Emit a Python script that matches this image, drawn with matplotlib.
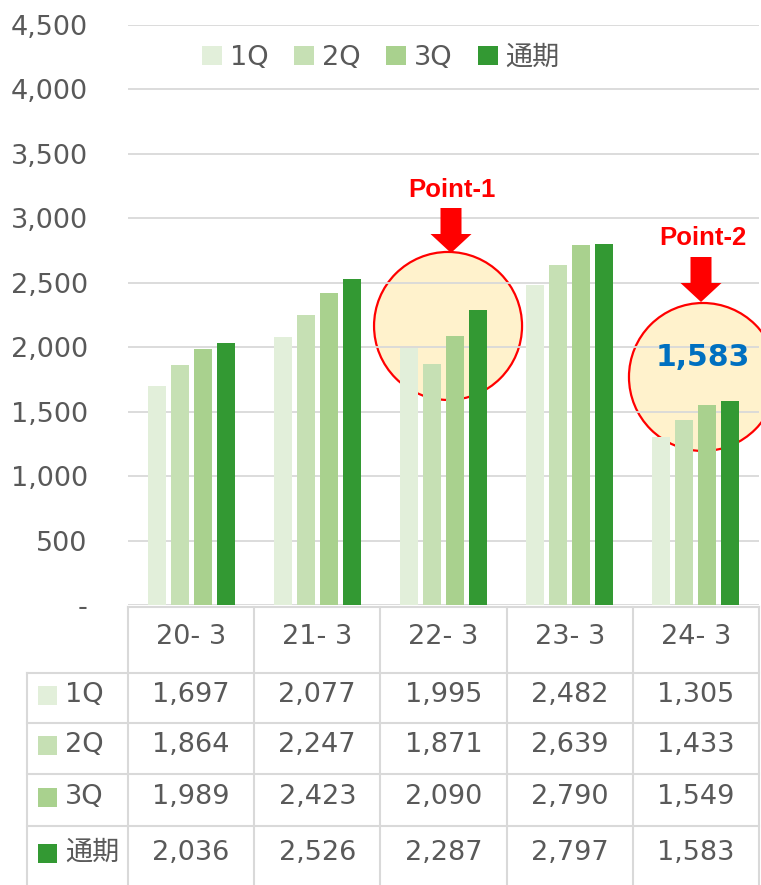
import matplotlib as mpl
import matplotlib.pyplot as plt
import matplotlib.transforms as mtransforms
from matplotlib.patches import Ellipse, Polygon, Rectangle
from matplotlib.lines import Line2D
import numpy as np

W, H = 761, 885

categories = ["20- 3", "21- 3", "22- 3", "23- 3", "24- 3"]
series_names = ["1Q", "2Q", "3Q", "通期"]
q1 = [1697, 2077, 1995, 2482, 1305]
q2 = [1864, 2247, 1871, 2639, 1433]
q3 = [1989, 2423, 2090, 2790, 1549]
full_year = [2036, 2526, 2287, 2797, 1583]
series = [q1, q2, q3, full_year]
colors = ["#e2efda", "#c6e0b4", "#a9d18e", "#339933"]
yticks = [0, 500, 1000, 1500, 2000, 2500, 3000, 3500, 4000, 4500]

TEXT = "#595959"
LINE = "#d9d9d9"

mpl.rcParams["font.family"] = ["DejaVu Sans", "Noto Sans CJK JP"]
mpl.rcParams["font.size"] = 19.5

fig = plt.figure(figsize=(W / 100, H / 100), dpi=100)
ax = fig.add_axes([128 / W, (H - 605) / H, 631 / W, 580 / H])

# pixel coords measured from the top-left corner
px = mtransforms.Affine2D().scale(1, -1).translate(0, H)

x = np.arange(len(categories))
width = 0.142
step = 0.182
for i, (vals, color, name) in enumerate(zip(series, colors, series_names)):
    ax.bar(x + (i - 1.5) * step, vals, width=width, color=color, label=name, zorder=2)

ax.set_xlim(-0.5, len(categories) - 0.5)
ax.set_ylim(0, 4500)
ax.set_yticks(yticks, ["-" if v == 0 else f"{v:,}" for v in yticks])
ax.set_xticks([])
ax.tick_params(axis="y", length=0, pad=29, colors=TEXT, labelsize=19.5)
ax.set_axisbelow(True)
ax.grid(axis="y", color=LINE, linewidth=1.3, zorder=0.5)
for s in ax.spines.values():
    s.set_visible(False)

ax.legend(
    loc="center", bbox_to_anchor=(381 / W, (H - 58) / H), bbox_transform=fig.transFigure,
    ncol=4, frameon=False, handlelength=0.72, handleheight=0.72, handletextpad=0.3,
    columnspacing=0.95, labelcolor=TEXT, fontsize=19.5, borderpad=0,
)

fig.canvas.draw()


def to_px(xd, yd):
    dx, dy = ax.transData.transform((xd, yd))
    return dx, H - dy


# highlight circles (drawn behind bars, gridlines visible)
R = 74
for cx_d, cy_d in [(2.036, 2165), (4.056, 1769)]:
    cx, cy = to_px(cx_d, cy_d)
    ax.add_patch(Ellipse((cx, cy), 2 * R, 2 * R, transform=px, facecolor="#fff2cc",
                         edgecolor="#ff0000", linewidth=1.6, zorder=0.3, clip_on=False))


def down_arrow(tip_x, tip_y):
    shaft_w, head_w, head_h, shaft_h = 21, 41, 19, 26
    pts = [
        (tip_x - shaft_w / 2, tip_y - head_h - shaft_h),
        (tip_x + shaft_w / 2, tip_y - head_h - shaft_h),
        (tip_x + shaft_w / 2, tip_y - head_h),
        (tip_x + head_w / 2, tip_y - head_h),
        (tip_x, tip_y),
        (tip_x - head_w / 2, tip_y - head_h),
        (tip_x - shaft_w / 2, tip_y - head_h),
    ]
    fig.add_artist(Polygon(pts, closed=True, transform=px, facecolor="#ff0000",
                           edgecolor="none", zorder=5))


down_arrow(451, 253)
down_arrow(701, 302)
fig.text(452, 190, "Point-1", transform=px, ha="center", va="center", color="#ff0000",
         fontsize=18.5, fontweight="bold", family="Liberation Sans")
fig.text(703, 238, "Point-2", transform=px, ha="center", va="center", color="#ff0000",
         fontsize=18.5, fontweight="bold", family="Liberation Sans")
fig.text(703, 358, f"{full_year[-1]:,}", transform=px, ha="center", va="center",
         color="#0070c0", fontsize=21.5, fontweight="bold")

# data table under the chart
col_edges = [to_px(i - 0.5, 0)[0] for i in range(len(categories) + 1)]
row_edges = [607, 673, 723, 774, 826]
label_left = 27


def hline(y, x0, x1):
    fig.add_artist(Line2D([x0, x1], [y, y], transform=px, color=LINE, linewidth=1.5))


def vline(xp, y0, y1):
    fig.add_artist(Line2D([xp, xp], [y0, y1], transform=px, color=LINE, linewidth=1.5))


hline(row_edges[0], col_edges[0], col_edges[-1])
for y in row_edges[1:]:
    hline(y, label_left, col_edges[-1])
for xe in col_edges:
    vline(xe, row_edges[0], H)
vline(label_left, row_edges[1], H)

for j, cat in enumerate(categories):
    cx = (col_edges[j] + col_edges[j + 1]) / 2
    fig.text(cx, 637, cat, transform=px, ha="center", va="center", color=TEXT)

row_text_y = [695, 745, 797, 853]
for r, (vals, color, name) in enumerate(zip(series, colors, series_names)):
    ty = row_text_y[r]
    fig.add_artist(Rectangle((38, ty - 9), 19, 19, transform=px, facecolor=color,
                             edgecolor="none"))
    fig.text(65, ty, name, transform=px, ha="left", va="center", color=TEXT)
    for j, v in enumerate(vals):
        cx = (col_edges[j] + col_edges[j + 1]) / 2
        fig.text(cx, ty, f"{v:,}", transform=px, ha="center", va="center", color=TEXT)

fig.savefig("out.png", dpi=100)
